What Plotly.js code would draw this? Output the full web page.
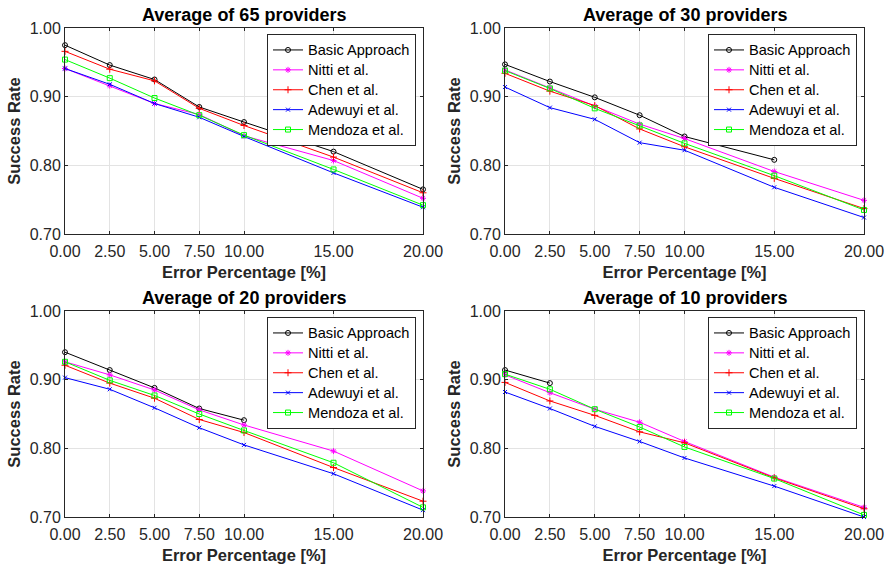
<!DOCTYPE html>
<html>
<head>
<meta charset="utf-8">
<script src="https://cdn.plot.ly/plotly-3.0.1.min.js"></script>
<style>html,body{margin:0;padding:0;background:#fff}#chart{width:888px;height:569px}</style>
</head>
<body>
<div id="chart"></div>
<script>
// ---- data ----
const errorPct = [0, 2.5, 5, 7.5, 10, 15, 20];
const seriesNames = ["Basic Approach", "Nitti et al.", "Chen et al.", "Adewuyi et al.", "Mendoza et al."];
const panelTitles = ["Average of 65 providers", "Average of 30 providers", "Average of 20 providers", "Average of 10 providers"];
const xTickLabels = ["0.00", "2.50", "5.00", "7.50", "10.00", "15.00", "20.00"];
const yTickVals = [0.70, 0.80, 0.90, 1.00];
const yTickLabels = ["0.70", "0.80", "0.90", "1.00"];

// Average of 65 providers
const basic65    = [0.975, 0.946, 0.925, 0.885, 0.863, 0.820, 0.765];
const nitti65    = [0.941, 0.916, 0.890, 0.874, 0.843, 0.807, 0.752];
const chen65     = [0.966, 0.940, 0.923, 0.883, 0.858, 0.812, 0.760];
const adewuyi65  = [0.941, 0.918, 0.890, 0.870, 0.842, 0.789, 0.739];
const mendoza65  = [0.954, 0.927, 0.898, 0.873, 0.844, 0.794, 0.742];

// Average of 30 providers
const basic30    = [0.947, 0.922, 0.899, 0.873, 0.842, 0.808];
const nitti30    = [0.939, 0.913, 0.886, 0.860, 0.839, 0.791, 0.749];
const chen30     = [0.934, 0.908, 0.887, 0.853, 0.827, 0.781, 0.737];
const adewuyi30  = [0.914, 0.884, 0.867, 0.833, 0.822, 0.768, 0.724];
const mendoza30  = [0.938, 0.912, 0.883, 0.858, 0.832, 0.785, 0.735];

// Average of 20 providers
const basic20    = [0.940, 0.914, 0.888, 0.858, 0.841];
const nitti20    = [0.926, 0.907, 0.885, 0.856, 0.834, 0.796, 0.738];
const chen20     = [0.921, 0.895, 0.873, 0.842, 0.823, 0.772, 0.723];
const adewuyi20  = [0.903, 0.886, 0.859, 0.830, 0.805, 0.763, 0.710];
const mendoza20  = [0.926, 0.899, 0.877, 0.850, 0.826, 0.779, 0.714];

// Average of 10 providers
const basic10    = [0.914, 0.895];
const nitti10    = [0.907, 0.881, 0.857, 0.838, 0.810, 0.758, 0.714];
const chen10     = [0.896, 0.869, 0.848, 0.824, 0.808, 0.757, 0.712];
const adewuyi10  = [0.882, 0.858, 0.832, 0.810, 0.786, 0.745, 0.700];
const mendoza10  = [0.908, 0.886, 0.857, 0.831, 0.802, 0.756, 0.703];

// ---- styles ----
const colors  = ["#000000", "#FF00FF", "#FF0000", "#0000FF", "#00FF00"];
const symbols = ["circle-open", "asterisk-open", "cross-thin-open", "x-thin-open", "square-open"];
const msizes  = [5, 5, 5, 4, 5];

const panels = [
  [basic65, nitti65, chen65, adewuyi65, mendoza65],
  [basic30, nitti30, chen30, adewuyi30, mendoza30],
  [basic20, nitti20, chen20, adewuyi20, mendoza20],
  [basic10, nitti10, chen10, adewuyi10, mendoza10]
];

const W = 888, H = 569;
// plot boxes in px: [left, top, right, bottom]
const boxes = [
  [65, 28, 423, 234],
  [505, 28, 864, 234],
  [65, 311, 423, 517],
  [505, 311, 864, 517]
];

const FONT = "Liberation Sans, Arial, sans-serif";
const traces = [];
const layout = {
  width: W, height: H,
  margin: {l: 0, r: 0, t: 0, b: 0},
  paper_bgcolor: "#ffffff",
  plot_bgcolor: "#ffffff",
  showlegend: true,
  font: {family: FONT, color: "#262626"},
  annotations: []
};

panels.forEach((series, p) => {
  const ax = p === 0 ? "" : String(p + 1);
  const legendId = p === 0 ? "legend" : "legend" + (p + 1);
  series.forEach((vals, s) => {
    traces.push({
      type: "scatter", mode: "lines+markers",
      x: errorPct.slice(0, vals.length), y: vals,
      name: '<span style="font-size:14.6px">' + seriesNames[s] + '</span>',
      xaxis: "x" + ax, yaxis: "y" + ax,
      legend: legendId,
      cliponaxis: false,
      line: {color: colors[s], width: 1},
      marker: {symbol: symbols[s], size: msizes[s], color: colors[s], line: {color: colors[s], width: 1}}
    });
  });
  const b = boxes[p];
  const xd = [b[0] / W, b[2] / W];
  const yd = [1 - b[3] / H, 1 - b[1] / H];
  layout["xaxis" + ax] = {
    domain: xd, anchor: "y" + ax, range: [0, 20],
    tickmode: "array", tickvals: errorPct, ticktext: xTickLabels,
    showgrid: true, gridcolor: "#e3e3e3", gridwidth: 1,
    zeroline: false, showline: true, mirror: "ticks", linecolor: "#262626", linewidth: 1,
    ticks: "inside", ticklen: 3, tickcolor: "#262626",
    ticklabelstandoff: 3,
    tickfont: {family: FONT, size: 16, color: "#262626"},
    title: {text: "<b>Error Percentage [%]</b>", font: {family: FONT, size: 16.5, color: "#262626"}, standoff: 7}
  };
  layout["yaxis" + ax] = {
    domain: yd, anchor: "x" + ax, range: [0.70, 1.00],
    tickmode: "array", tickvals: yTickVals, ticktext: yTickLabels,
    showgrid: true, gridcolor: "#e3e3e3", gridwidth: 1,
    zeroline: false, showline: true, mirror: "ticks", linecolor: "#262626", linewidth: 1,
    ticks: "inside", ticklen: 3, tickcolor: "#262626",
    tickfont: {family: FONT, size: 16, color: "#262626"},
    title: {text: "<b>Success Rate</b>", font: {family: FONT, size: 16.5, color: "#262626"}, standoff: 4}
  };
  layout[legendId] = {
    x: (b[2] - 7) / W, y: 1 - (b[1] + 6) / H,
    xanchor: "right", yanchor: "top",
    bgcolor: "#ffffff", bordercolor: "#262626", borderwidth: 1,
    font: {family: FONT, size: 13, color: "#000000"},
    tracegroupgap: 0, itemwidth: 30
  };
  layout.annotations.push({
    text: "<b>" + panelTitles[p] + "</b>",
    xref: "paper", yref: "paper",
    x: (b[0] + b[2]) / 2 / W, y: 1 - (b[1] - 13) / H,
    xanchor: "center", yanchor: "middle", showarrow: false,
    font: {family: FONT, size: 18, color: "#000000"}
  });
});

Plotly.newPlot("chart", traces, layout, {displayModeBar: false, staticPlot: true});
</script>
</body>
</html>
